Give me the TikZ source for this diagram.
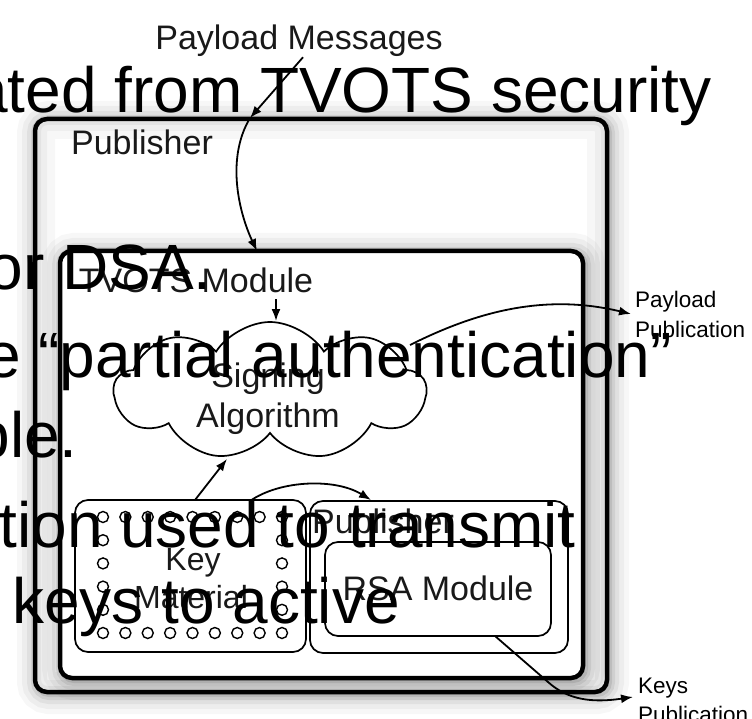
\documentclass[tikz,border=0pt]{standalone}
\usepackage{fontspec}
\setmainfont{Liberation Sans}
\usetikzlibrary{arrows.meta,shapes.symbols}
\begin{document}
\begin{tikzpicture}[x=1pt,y=-1pt,
  lbl/.style={inner sep=0pt,font=\fontsize{34}{41}\selectfont,text=black!90},
  keylbl/.style={inner sep=0pt,font=\fontsize{32}{38}\selectfont,text=black!90},
  big/.style={inner sep=0pt,font=\fontsize{64}{77}\selectfont,anchor=base east},
  side/.style={inner sep=0pt,font=\fontsize{22.5}{29}\selectfont,anchor=base west},
  arr/.style={line width=1.8pt,-{Latex[length=12pt,width=9pt]}},
  heavybox/.style={line width=4.5pt,rounded corners=12pt},
  lightbox/.style={line width=1.7pt,rounded corners=13pt},
  ring/.style={line width=1.4pt,fill=white}
]
\useasboundingbox (0,0) rectangle (752,719);

% ---------- outer Publisher box with soft shadow ----------
\foreach \w/\o in {40/0.03,30/0.04,20/0.055,12/0.07,6/0.09}
  \draw[line width=\w pt,black,opacity=\o,rounded corners=12pt] (37,121) rectangle (609,694);
\fill[white,rounded corners=12pt] (35,119) rectangle (607,692);
\begin{scope}
  \clip[rounded corners=12pt] (35,119) rectangle (607,692);
  \foreach \w/\o in {40/0.03,24/0.035,12/0.045}
    \draw[line width=\w pt,black,opacity=\o,rounded corners=12pt] (35,119) rectangle (607,692);
\end{scope}

% ---------- TVOTS Module box with soft shadow ----------
\foreach \w/\o in {40/0.03,30/0.04,20/0.055,12/0.07,6/0.09}
  \draw[line width=\w pt,black,opacity=\o,rounded corners=12pt] (62,253) rectangle (585,680);
\fill[white,rounded corners=12pt] (60,251) rectangle (583,678);

\draw[heavybox] (35,119) rectangle (607,692);
\draw[heavybox] (60,251) rectangle (583,678);

% ---------- inner boxes ----------
\draw[lightbox] (75,500) rectangle (306,652);
\draw[lightbox] (310,501) rectangle (568,653);
\draw[lightbox] (325,542) rectangle (551,636);

% key material rings
\foreach \i in {0,...,8} {
  \draw[ring] ({103+\i*22.375},517) circle (5.5);
  \draw[ring] ({103+\i*22.375},633) circle (5.5);
}
\foreach \j in {1,...,4} {
  \draw[ring] (103,{517+\j*23.2}) circle (5.5);
  \draw[ring] (282,{517+\j*23.2}) circle (5.5);
}

% ---------- cloud ----------
\node[cloud,draw,line width=1.7pt,cloud puffs=9,cloud puff arc=115,aspect=2.25,
      minimum width=312pt,minimum height=138pt,inner sep=0pt,fill=white] (cl) at (270,391) {};

% ---------- labels ----------
\node[lbl,anchor=base] (pm) at (299,50) {Payload Messages};
\node[lbl,anchor=base] (pubA) at (142,155) {Publisher};
\node[lbl,anchor=base] (tv) at (196,292) {TVOTS Module};
\node[lbl,anchor=base] (sg) at (268,387) {Signing};
\node[lbl,anchor=base] (alg) at (268,427) {Algorithm};
\node[keylbl,anchor=base] (key) at (193,570) {Key};
\node[keylbl,anchor=base] (mat) at (191,608) {Material};
\node[lbl,anchor=base] (pubB) at (383,533) {Publisher};
\node[lbl,anchor=base] (rsa) at (438,600) {RSA Module};
\node[side] (pp1) at (635,308) {Payload};
\node[side] (pp2) at (635,337) {Publication};
\node[side] (kp1) at (638,693) {Keys};
\node[side] (kp2) at (638,722) {Publication};

% ---------- connector end points ----------
\coordinate (pubtop) at (250,118);
\coordinate (tvtop) at (257,251);
\coordinate (tvarr) at (276,299);
\coordinate (cltop) at (276,321);
\coordinate (clright) at (410,345);
\coordinate (ppub) at (631,314);
\coordinate (keytopA) at (195,500);
\coordinate (clbottom) at (227,459);
\coordinate (keytopB) at (250,501);
\coordinate (pubBtop) at (371,500);
\coordinate (rsabot) at (495,636);
\coordinate (kbend) at (548,682);
\coordinate (kpub) at (633,697);

% ---------- connectors ----------
\draw[arr] ([xshift=4pt]pm.south) -- (pubtop);
\draw[arr] (pubtop) .. controls (225,160) and (240,215) .. (tvtop);
\draw[arr] (tvarr) -- (cltop);
\draw[arr] (clright) .. controls (470,315) and (540,292) .. (ppub);
\draw[arr] (keytopA) -- (clbottom);
\draw[arr] (keytopB) .. controls (280,480) and (335,478) .. (pubBtop);
\draw[arr] (rsabot) -- (kbend) .. controls (568,700) and (592,703) .. (kpub);

% ---------- overlaid slide text ----------
\node[big] (t1) at (712,113) {ated from TVOTS security};
\node[big] (t2) at (212,290) {or DSA.};
\node[big] (t3) at (672,377) {e “partial authentication”};
\node[big] (t4) at (78,457) {ble.};
\node[big] (t5) at (576,547) {tion used to transmit};
\node[big] (t6) at (400,623) {keys to active};
\end{tikzpicture}
\end{document}
